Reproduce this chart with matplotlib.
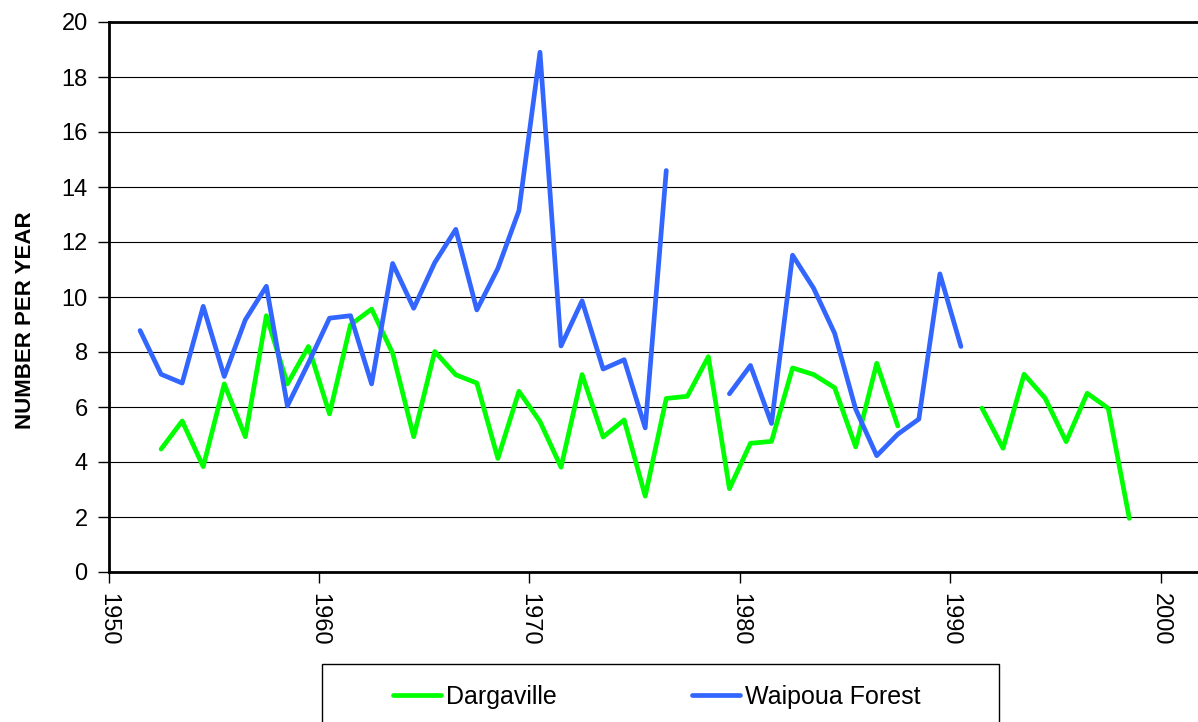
import numpy as np
import matplotlib.pyplot as plt
from matplotlib.patches import Rectangle

plt.rcParams['font.family'] = ['Liberation Sans', 'DejaVu Sans']

# year of record (plotted at mid-year)
years = np.arange(1951, 1999)

nan = np.nan
waipoua = [8.78, 7.19, 6.87, 9.66, 7.11, 9.17, 10.39, 6.04, 7.6, 9.23,
           9.32, 6.84, 11.22, 9.59, 11.25, 12.46, 9.53, 11.04, 13.14, 18.9,
           8.22, 9.86, 7.38, 7.72, 5.24, 14.6, nan, nan, 6.48, 7.51,
           5.40, 11.52, 10.32, 8.68, 5.92, 4.23, 5.01, 5.56, 10.84, 8.20,
           nan, nan, nan, nan, nan, nan, nan, nan]
dargaville = [nan, 4.47, 5.49, 3.83, 6.84, 4.92, 9.32, 6.84, 8.2, 5.75,
              8.99, 9.56, 7.96, 4.92, 8.02, 7.17, 6.87, 4.13, 6.57, 5.47,
              3.81, 7.18, 4.91, 5.53, 2.76, 6.31, 6.39, 7.83, 3.03, 4.68,
              4.75, 7.42, 7.18, 6.70, 4.55, 7.59, 5.31, nan, nan, nan,
              5.96, 4.50, 7.19, 6.32, 4.74, 6.50, 5.95, 1.95]

xticks = [1950, 1960, 1970, 1980, 1990, 2000]
yticks = list(range(0, 21, 2))

W, H = 1198, 722
fig = plt.figure(figsize=(W / 100, H / 100), dpi=100)
ax = fig.add_axes([108.5 / W, 1 - 572 / H, 1105 / W, 550 / H])

ax.plot(years + 0.5, dargaville, color='#00FF00', lw=3.4,
        solid_joinstyle='round', solid_capstyle='round',
        label='Dargaville', zorder=3)
ax.plot(years + 0.5, waipoua, color='#3366FF', lw=3.4,
        solid_joinstyle='round', solid_capstyle='round',
        label='Waipoua Forest', zorder=3)

ax.set_xlim(1950, 2002.5)
ax.set_ylim(0, 20)
ax.set_xticks(xticks)
ax.set_yticks(yticks)
ax.set_xticklabels([str(x) for x in xticks], rotation=270, fontsize=17)
ax.tick_params(axis='y', labelsize=17, length=8, width=1, pad=7)
ax.tick_params(axis='x', length=8, width=1, pad=7)
ax.grid(axis='y', color='black', lw=0.8, zorder=0)

for s in ['left', 'bottom', 'top']:
    ax.spines[s].set_linewidth(2)
ax.spines['right'].set_visible(False)

ax.set_ylabel('NUMBER PER YEAR', fontsize=16, fontweight='bold')
ax.yaxis.set_label_coords(-0.066, 0.458)

# legend box (runs off the bottom of the picture)
fig.patches.append(Rectangle((322 / W, -0.05), 677 / W, (722 - 664) / H + 0.05,
                             transform=fig.transFigure, fill=False,
                             edgecolor='black', lw=1))
h, l = ax.get_legend_handles_labels()
fig.legend(h, l, loc='center left', bbox_to_anchor=(380 / W, 1 - 697 / H),
           ncol=2, frameon=False, fontsize=18, borderpad=0,
           handlelength=1.92, handletextpad=0.2, columnspacing=5.42)

fig.savefig('out.png', dpi=100)
